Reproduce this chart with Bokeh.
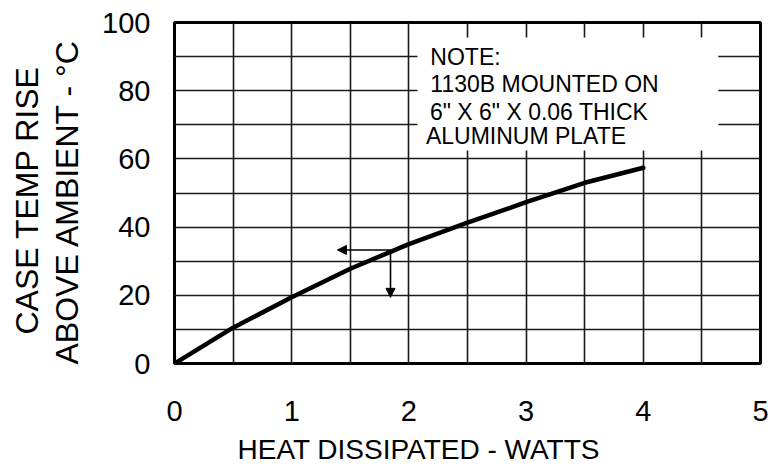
from bokeh.plotting import figure
from bokeh.models import Range1d, FixedTicker, Label, Arrow, NormalHead, Title
from bokeh.embed import file_html
from bokeh.resources import INLINE

# ---- data ----
watts = [0.0, 0.5, 1.0, 1.5, 2.0, 2.5, 3.0, 3.5, 4.0]
temp_rise = [0.0, 10.5, 19.4, 27.8, 35.0, 41.3, 47.3, 53.0, 57.4]

x_ticks = [0, 1, 2, 3, 4, 5]
y_ticks = [0, 20, 40, 60, 80, 100]
x_grid = [0.5, 1.0, 1.5, 2.0, 2.5, 3.0, 3.5, 4.0, 4.5]
y_grid = [10, 20, 30, 40, 50, 60, 70, 80, 90]

note_lines = ["NOTE:", "1130B MOUNTED ON", "6\" X 6\" X 0.06 THICK", "ALUMINUM PLATE"]
x_title = "HEAT DISSIPATED - WATTS"
y_title_1 = "CASE TEMP RISE"
y_title_2 = "ABOVE AMBIENT - °C"

# example operating point (arrows)
op_x = 1.843
op_y = 33.3
op_x_end = 1.39
op_y_end = 19.4

FONT = "Liberation Sans"

p = figure(width=771, height=475, output_backend="svg", toolbar_location=None,
           x_range=Range1d(0, 5), y_range=Range1d(0, 100),
           min_border_left=174, min_border_right=11, min_border_top=22, min_border_bottom=112)
p.background_fill_color = "white"
p.border_fill_color = "white"
p.outline_line_color = "black"
p.outline_line_width = 3

# axes
for ax in (p.xaxis, p.yaxis):
    ax.axis_line_color = None
    ax.major_tick_line_color = None
    ax.minor_tick_line_color = None
    ax.major_label_text_font = FONT
    ax.major_label_text_font_size = "29px"
    ax.major_label_text_color = "black"
p.xaxis.ticker = FixedTicker(ticks=x_ticks)
p.yaxis.ticker = FixedTicker(ticks=y_ticks)
p.xaxis.major_label_standoff = 31
p.yaxis.major_label_standoff = 18

# grid
p.xgrid.ticker = FixedTicker(ticks=x_grid)
p.ygrid.ticker = FixedTicker(ticks=y_grid)
for g in (p.xgrid, p.ygrid):
    g.grid_line_color = "#1a1a1a"
    g.grid_line_width = 1.6
    g.grid_line_alpha = 1

# white note box
p.quad(left=2.073, right=4.64, bottom=62.5, top=95.6, fill_color="white", line_color=None)

# curve
p.line(watts, temp_rise, line_color="black", line_width=4.5, line_cap="round", line_join="round")

# arrows
head = dict(size=9, fill_color="black", line_color="black", line_width=1)
p.add_layout(Arrow(end=NormalHead(**head), x_start=op_x, y_start=op_y, x_end=op_x_end, y_end=op_y,
                   line_color="black", line_width=1.6))
p.add_layout(Arrow(end=NormalHead(**head), x_start=op_x, y_start=op_y, x_end=op_x, y_end=op_y_end,
                   line_color="black", line_width=1.6))

# note text
note_x = [2.183, 2.183, 2.180, 2.145]
note_y = [90.0, 82.1, 73.9, 66.6]
for t, nx, ny in zip(note_lines, note_x, note_y):
    p.add_layout(Label(x=nx, y=ny, text=t, text_font=FONT, text_font_size="23px",
                       text_align="left", text_baseline="middle", text_color="black"))

# axis titles
p.add_layout(Title(text=x_title, text_font=FONT, text_font_size="28px",
                   text_font_style="normal", align="left", offset=63, standoff=16,
                   text_color="black"), "below")
p.add_layout(Title(text=y_title_2, text_font=FONT, text_font_size="32px", text_font_style="normal",
                   align="left", offset=-1, standoff=29, text_color="black"), "left")
p.add_layout(Title(text=y_title_1, text_font=FONT, text_font_size="32px", text_font_style="normal",
                   align="left", offset=29, standoff=-25, text_color="black"), "left")

open("out.html", "w").write(file_html(p, INLINE))
